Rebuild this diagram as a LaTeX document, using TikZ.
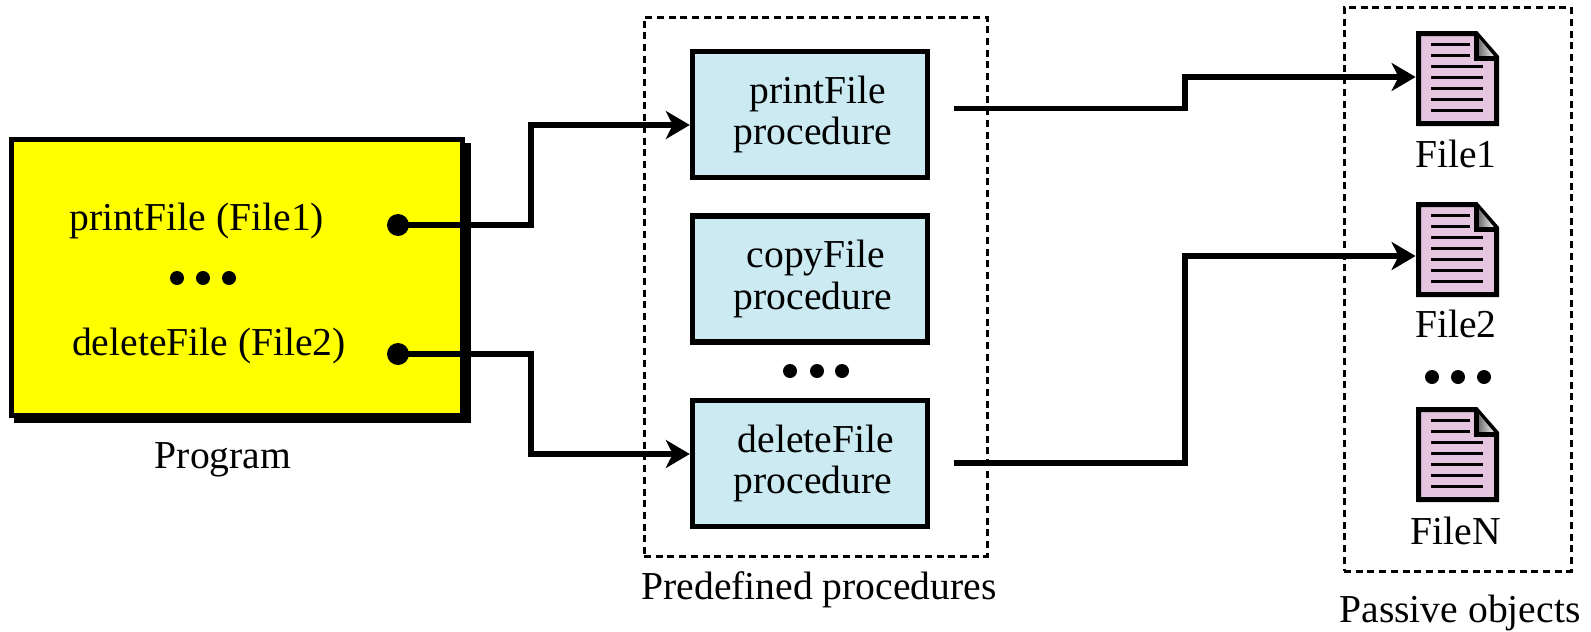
\documentclass[tikz,border=0pt]{standalone}
\usepackage{fontspec}
\setmainfont{Liberation Serif}
\usetikzlibrary{calc, positioning, arrows.meta, shapes}
\definecolor{progyellow}{HTML}{FFFF00}
\definecolor{procblue}{HTML}{CBEAF1}
\definecolor{filepink}{HTML}{E4C4DF}
\begin{document}
\begin{tikzpicture}[x=.5pt,y=-.5pt,
  every node/.style={font=\fontsize{19.8}{20.8}\selectfont},
  ele/.style={fill=black, circle, minimum width=14*.5pt, inner sep=0pt},
  calldot/.style={fill=black, circle, minimum width=22*.5pt, inner sep=0pt},
  proc/.style={draw, fill=procblue, line width=2.7pt, minimum width=235*.5pt, minimum height=126*.5pt, align=center, inner sep=0pt, execute at begin node=\rule{0pt}{16.2pt}},
  group/.style={draw, line width=1.5pt, dash pattern=on 3.5pt off 2.35pt},
  link/.style={line width=2.6pt, -{Stealth[length=12pt, width=14pt, inset=3.5pt]}},
  lbl/.style={anchor=base}]
  \useasboundingbox (0,0) rectangle (1591,632);

  % program
  \fill (14,143) rectangle (471,423);
  \node[draw, fill=progyellow, line width=2.7pt, minimum width=451*.5pt, minimum height=276*.5pt, inner sep=0pt] (program) at (237,277.5) {};
  \node[lbl] (printcall) at (197,230) {printFile (File1)};
  \node[lbl] (deletecall) at (209,355) {deleteFile (File2)};
  \node[lbl] (programlbl) at (223,468) {Program};
  \node[calldot] (dot1) at (398,225) {};
  \node[calldot] (dot2) at (398,354) {};
  \foreach \x in {177,203,229}
    \node[ele] (pd\x) at (\x,278) {};

  % procedures
  \node[group, minimum width=343*.5pt, minimum height=539*.5pt] (predef) at (815.5,286.5) {};
  \node[proc] (printproc) at (810,114.5) {\hspace*{8pt}printFile\\\hspace*{3pt}procedure};
  \node[proc] (copyproc) at (810,279) {\hspace*{6pt}copyFile\\\hspace*{3pt}procedure};
  \node[proc] (deleteproc) at (810,463.5) {\hspace*{6pt}deleteFile\\\hspace*{3pt}procedure};
  \node[lbl] (predeflbl) at (819,599) {Predefined procedures};
  \foreach \x in {790,817,842}
    \node[ele] (md\x) at (\x,371) {};

  % files
  \node[group, minimum width=227*.5pt, minimum height=564*.5pt] (passive) at (1457.5,289) {};
  \foreach \n/\y/\t/\b in {1/31/File1/136, 2/202/File2/135, 3/407/FileN/137} {
    \node[minimum width=83*.5pt, minimum height=95*.5pt, inner sep=0pt] (file\n) at (1457.5,\y+47.5) {};
    \begin{scope}[shift={(1416,\y)}]
      \draw[fill=filepink, line width=2.5pt, line join=miter] (2.5,2.5) -- (60,2.5) -- (80.5,26) -- (80.5,92.5) -- (2.5,92.5) -- cycle;
      \shade[left color=black!65, right color=white] (60,3.5) -- (79.5,27) -- (60,27) -- cycle;
      \draw[line width=2.5pt] (60,2.5) -- (60,27) -- (80.5,27);
      \foreach \l in {13,24} \draw[line width=1.5pt] (15,\l) -- (54,\l);
      \foreach \l in {35,46,57,68,79} \draw[line width=1.5pt] (15,\l) -- (67,\l);
    \end{scope}
    \node[lbl] (lbl\n) at (1456,\y+\b) {\t};
  }
  \foreach \x in {1432,1458,1484}
    \node[ele] (fd\x) at (\x,377) {};
  \node[lbl] (passivelbl) at (1460,622) {Passive objects};

  % connectors
  \coordinate (in1) at (printproc.west |- 0,125);
  \coordinate (in2) at (deleteproc.west |- 0,454);
  \coordinate (out1) at (954,108.5);
  \coordinate (out2) at (954,463);
  \coordinate (tip1) at (file1.west |- 0,77);
  \coordinate (tip2) at (file2.west |- 0,256);
  \draw[link] (dot1.center) -| (531,125) -- (in1);
  \draw[link] (dot2.center) -| (531,454) -- (in2);
  \draw[link] (out1) -| (1185,77) -- (tip1);
  \draw[link] (out2) -| (1185,256) -- (tip2);
\end{tikzpicture}
\end{document}
